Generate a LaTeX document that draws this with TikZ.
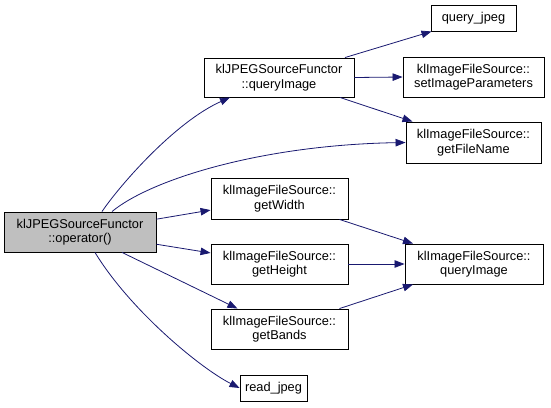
\documentclass[tikz,border=0pt]{standalone}
\usepackage{fontspec}
\setmainfont{Liberation Sans}
\usetikzlibrary{arrows.meta}
\definecolor{edgeblue}{HTML}{191970}
\definecolor{rootgray}{HTML}{BFBFBF}
\begin{document}
\begin{tikzpicture}[x=1pt,y=-1pt,
  fn/.style={draw=black, line width=0.9pt, fill=white, inner sep=0pt, align=center,
    font=\fontsize{12.8}{14.5}\selectfont},
  call/.style={draw=edgeblue, line width=0.8pt, -{Triangle[length=10pt,width=7.5pt]}}]
\useasboundingbox (0,0) rectangle (551,407);
\node[fn, fill=rootgray, minimum width=152pt, minimum height=40pt] (op) at (80,232) {klJPEGSourceFunctor\\::operator()};
\node[fn, minimum width=150pt, minimum height=39pt] (qi1) at (279,77.5) {klJPEGSourceFunctor\\::queryImage};
\node[fn, minimum width=85pt, minimum height=26pt] (qj) at (473.5,18) {query\_jpeg};
\node[fn, minimum width=141pt, minimum height=40pt] (sip) at (473.5,77) {klImageFileSource::\\setImageParameters};
\node[fn, minimum width=135pt, minimum height=41pt] (gfn) at (473.5,142.5) {klImageFileSource::\\getFileName};
\node[fn, minimum width=137pt, minimum height=41pt] (gw) at (279.5,198.5) {klImageFileSource::\\getWidth};
\node[fn, minimum width=137pt, minimum height=40pt] (gh) at (279.5,264) {klImageFileSource::\\getHeight};
\node[fn, minimum width=137pt, minimum height=40pt] (gb) at (279.5,329) {klImageFileSource::\\getBands};
\node[fn, minimum width=138pt, minimum height=40pt] (qi2) at (474,264) {klImageFileSource::\\queryImage};
\node[fn, minimum width=67pt, minimum height=26pt] (rj) at (273.5,388) {read\_jpeg};

\draw[call] ([xshift=22pt]op.north) .. controls (120,185) and (175,122) .. ([xshift=-49pt]qi1.south);
\draw[call] ([xshift=32pt]op.north) .. controls (150,180) and (260,145) .. (gfn.west);
\draw[call] (op) -- (gw);
\draw[call] (op) -- (gh);
\draw[call] (op) -- (gb);
\draw[call] ([xshift=15pt]op.south) .. controls (130,310) and (200,368) .. (rj.west);
\draw[call] ([xshift=66pt]qi1.north) -- ([xshift=-42pt]qj.south);
\draw[call] (qi1.east) -- (sip.west);
\draw[call] ([xshift=61pt]qi1.south) -- ([xshift=-61pt]gfn.north);
\draw[call] ([xshift=60pt]gw.south) -- ([xshift=-61pt]qi2.north);
\draw[call] (gh.east) -- (qi2.west);
\draw[call] ([xshift=60pt]gb.north) -- ([xshift=-61pt]qi2.south);
\end{tikzpicture}
\end{document}
